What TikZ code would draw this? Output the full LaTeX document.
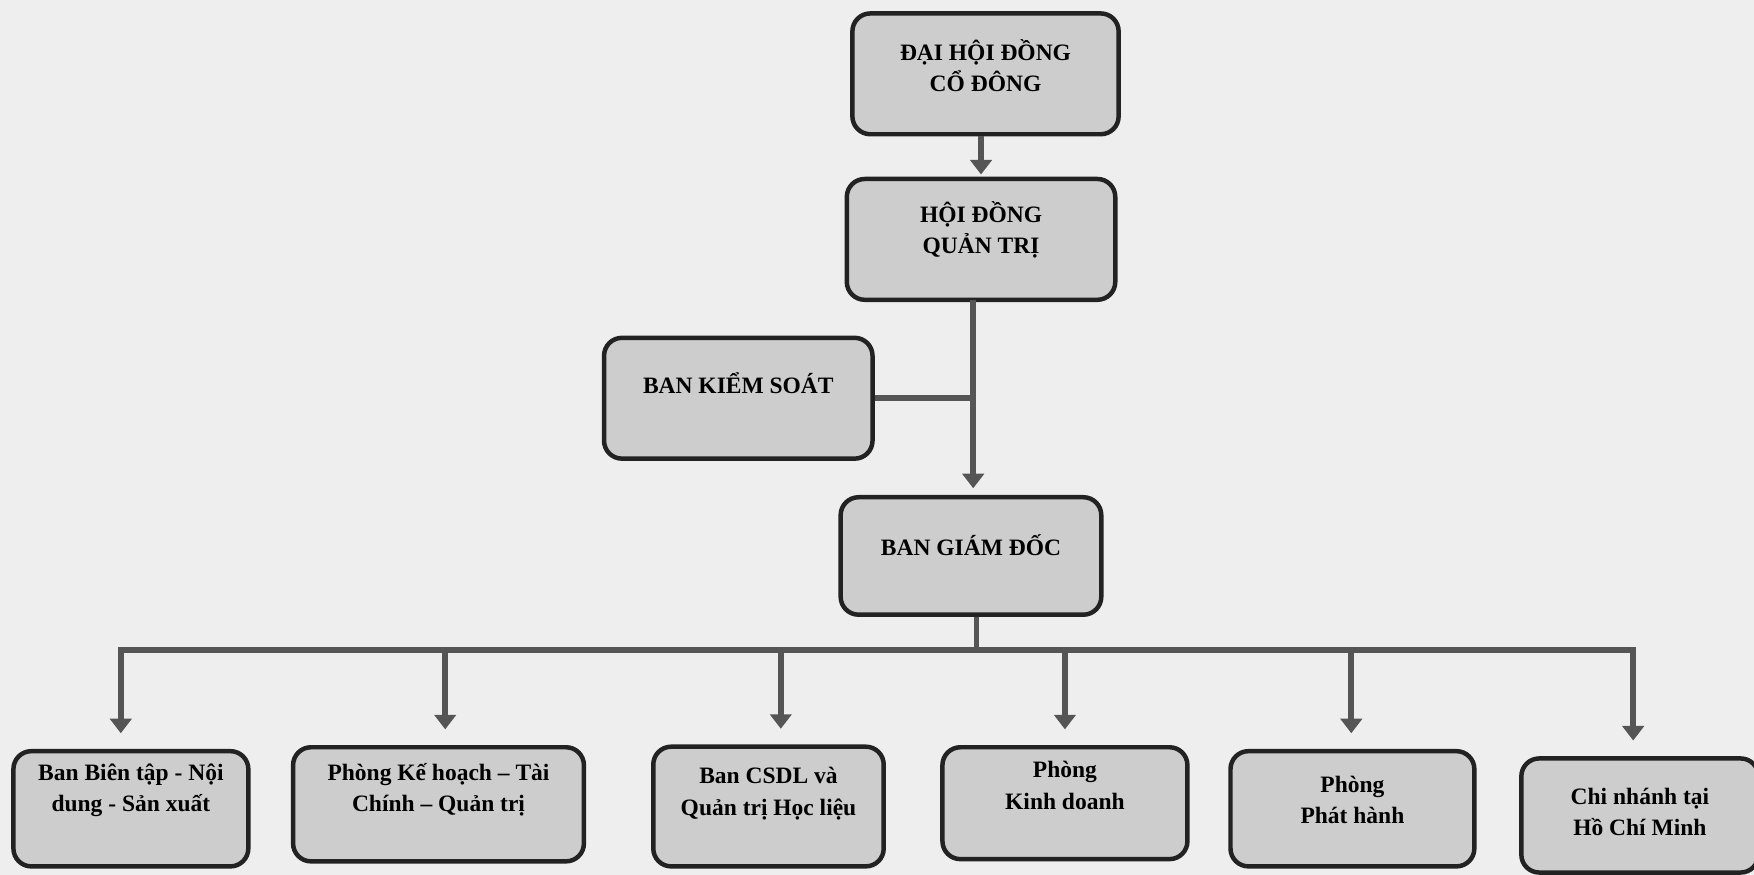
\documentclass[tikz,border=0pt]{standalone}
\usepackage{fontspec}
\setmainfont{Liberation Serif}
\usetikzlibrary{arrows.meta}
\definecolor{bg}{HTML}{EEEEEE}
\definecolor{boxfill}{HTML}{CDCDCD}
\definecolor{edge}{HTML}{222222}
\definecolor{link}{HTML}{555555}
\begin{document}
\begin{tikzpicture}[x=0.5pt,y=-0.5pt,
  orgbox/.style={draw=edge, line width=2pt, fill=boxfill, rounded corners=8pt,
    align=center, inner sep=0pt, font=\bfseries\fontsize{10.5}{14}\selectfont},
  conn/.style={draw=link, line width=2.6pt},
  arr/.style={conn, -{Triangle[width=9.5pt,length=6.5pt]}, shorten >=3pt}]
\fill[bg] (0,0) rectangle (1568,782);
\useasboundingbox (0,0) rectangle (1568,782);

\node[orgbox, minimum width=119pt, minimum height=54pt, text depth=7.5pt] (dhdcd) at (881,66) {ĐẠI HỘI ĐỒNG\\CỔ ĐÔNG};
\node[orgbox, minimum width=120pt, minimum height=54pt, text depth=10.5pt] (hdqt) at (877,214) {HỘI ĐỒNG\\QUẢN TRỊ};
\node[orgbox, minimum width=120pt, minimum height=54pt, text depth=14pt] (bks) at (660,356) {BAN KIỂM SOÁT};
\node[orgbox, minimum width=116.5pt, minimum height=52.5pt, text depth=10pt] (bgd) at (868,497) {BAN GIÁM ĐỐC};

\node[orgbox, minimum width=105pt, minimum height=51.5pt, text depth=19pt] (e1) at (117,723) {Ban Biên tập - Nội\\dung - Sản xuất};
\node[orgbox, minimum width=130pt, minimum height=51pt, text depth=15pt] (e2) at (392,719) {Phòng Kế hoạch – Tài\\Chính – Quản trị};
\node[orgbox, minimum width=103pt, minimum height=53.5pt, text depth=13.5pt] (e3) at (687,721) {Ban CSDL và\\Quản trị Học liệu};
\node[orgbox, minimum width=109.5pt, minimum height=50pt, text depth=16pt] (e4) at (952,718) {Phòng\\Kinh doanh};
\node[orgbox, minimum width=109pt, minimum height=51.5pt, text depth=8pt] (e5) at (1209,723) {Phòng\\Phát hành};
\node[orgbox, minimum width=106pt, minimum height=51pt, text depth=3pt] (e6) at (1466,729) {Chi nhánh tại\\Hồ Chí Minh};

\coordinate (topx) at (877,120);
\draw[arr, shorten >=1pt] (topx |- dhdcd.south) -- (topx |- hdqt.north);
\coordinate (spine) at (870,268);
\draw[arr] (spine) -- (spine |- bgd.north);
\draw[conn] (bks.east) -- (bks.east -| spine);

\coordinate (b1) at (108,581);
\coordinate (b2) at (398,581);
\coordinate (b3) at (698,581);
\coordinate (b4) at (952,581);
\coordinate (b5) at (1208,581);
\coordinate (b6) at (1460,581);
\coordinate (hub) at (873,581);
\draw[conn] (hub |- bgd.south) -- (hub);
\draw[conn, line cap=rect] (b1) -- (b6);
\draw[arr, shorten >=7pt] (b1) -- (b1 |- e1.north);
\draw[arr, shorten >=7pt] (b2) -- (b2 |- e2.north);
\draw[arr, shorten >=7pt] (b3) -- (b3 |- e3.north);
\draw[arr, shorten >=7pt] (b4) -- (b4 |- e4.north);
\draw[arr, shorten >=7pt] (b5) -- (b5 |- e5.north);
\draw[arr, shorten >=7pt] (b6) -- (b6 |- e6.north);
\end{tikzpicture}
\end{document}
